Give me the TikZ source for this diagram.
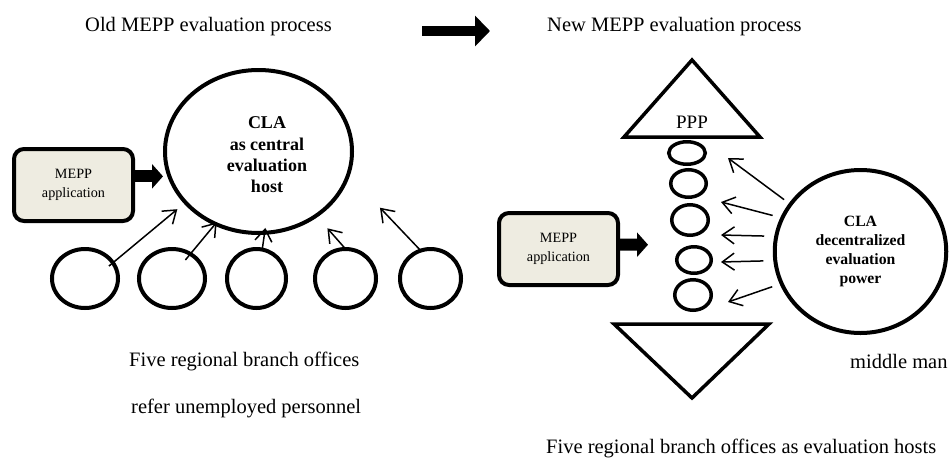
\documentclass[tikz,border=0pt]{standalone}
\usepackage{fontspec}
\setmainfont{Liberation Serif}
\usetikzlibrary{shapes.geometric, arrows.meta, calc}
\definecolor{boxbeige}{HTML}{EEECE1}
\tikzset{
 office/.style = {draw, ellipse, line width=4pt, inner sep=0pt},
 ring/.style = {draw, ellipse, line width=3.5pt, inner sep=0pt},
 appbox/.style = {draw, line width=4pt, rounded corners=10pt, fill=boxbeige, minimum width=119pt, minimum height=72pt, align=center, font=\fontsize{14.2}{19}\selectfont},
 blockarrow/.style = {line width=12pt, -{Triangle[length=11pt, width=24pt]}},
 bigarrow/.style = {line width=10pt, -{Triangle[length=15pt, width=30pt]}},
 thinarrow/.style = {line width=1.5pt, -{Straight Barb[length=12pt, width=17pt]}},
 caption/.style = {anchor=base west, inner sep=0pt, font=\fontsize{20.5}{24}\selectfont},
}

\begin{document}
\begin{tikzpicture}[x=1pt, y=-1pt]
 \useasboundingbox (0, 0) rectangle (950, 461);

 %見出し
 \node[caption] (told) at (85, 31) {Old MEPP evaluation process};
 \node[caption] (tnew) at (547, 31) {New MEPP evaluation process};
 \coordinate (go) at (422, 31);
 \coordinate (gn) at (490, 31);
 \draw[bigarrow] (go) -- (gn);

 %旧プロセス
 \node[office, minimum width=187pt, minimum height=163pt] (cla) at (258.5, 151.5) {};
 \node[align=center, font=\fontsize{18}{21.3}\selectfont\bfseries] (clatext) at (267, 155) {CLA\\as central\\evaluation\\host};
 \node[appbox] (app1) at (73.5, 185) {MEPP\\application};
 \draw[blockarrow] (app1.8) -- (app1.8 -| cla.west);

 \foreach \i/\x/\w in {1/85/66pt, 2/172/66pt, 3/256.5/59pt, 4/345.5/61pt, 5/430.5/61pt}
  \node[office, minimum width=\w, minimum height=59pt] (s\i) at (\x, 278.5) {};
 \foreach \i/\a/\ss/\b/\se in {1/30/-7.2pt/215.7/8.6pt, 2/53.5/-9.8pt/239.9/-4pt, 3/79.2/-2.6pt/274.7/-7pt, 4/93.3/-2.7pt/312.7/14.9pt, 5/111.4/-2.9pt/345.8/43.8pt}
  \draw[thinarrow, shorten <=\ss, shorten >=\se] (s\i.\a) -- (cla.\b);

 \node[caption] (off1) at (129, 366) {Five regional branch offices};
 \node[caption] (off2) at (131, 413) {refer unemployed personnel};

 %新プロセス
 \foreach \i/\x/\y/\w/\h in {1/687/153/36.5pt/22.5pt, 2/688.5/183.5/35.5pt/27.5pt, 3/690/220/36.5pt/30.5pt, 4/694/260/34.5pt/26.5pt, 5/693/295/36.5pt/30.5pt}
  \node[ring, minimum width=\w, minimum height=\h] (c\i) at (\x, \y) {};
 \draw[line width=3.5pt] (624, 137) -- (760, 137) -- (692, 60) -- cycle;
 \node[anchor=base, inner sep=0pt, font=\fontsize{19}{22}\selectfont] (ppp) at (692, 128) {PPP};
 \draw[line width=3.5pt] (614, 324) -- (769, 324) -- (692, 398) -- cycle;

 \node[appbox] (app2) at (558.5, 249) {MEPP\\application};
 \coordinate (apptip) at (648, 244.7);
 \draw[blockarrow] (app2.4) -- (apptip);

 \node[office, minimum width=171.5pt, minimum height=163pt, align=center, font=\fontsize{15.7}{19}\selectfont\bfseries] (rcla) at (860.5, 251.5) {CLA\\decentralized\\evaluation\\power};
 \coordinate (t1) at (728, 158);
 \coordinate (t2) at (721, 202);
 \coordinate (t3) at (721, 235);
 \coordinate (t4) at (721, 262);
 \coordinate (t5) at (728, 302);
 \foreach \a/\s/\t in {146/6pt/1, 157/8pt/2, 170/10pt/3, 186/10pt/4, 202/8pt/5}
  \draw[thinarrow, shorten <=\s] (rcla.\a) -- (t\t);

 \node[caption] (mid) at (850, 368) {middle man};
 \node[caption] (hosts) at (546, 453) {Five regional branch offices as evaluation hosts};
\end{tikzpicture}
\end{document}
